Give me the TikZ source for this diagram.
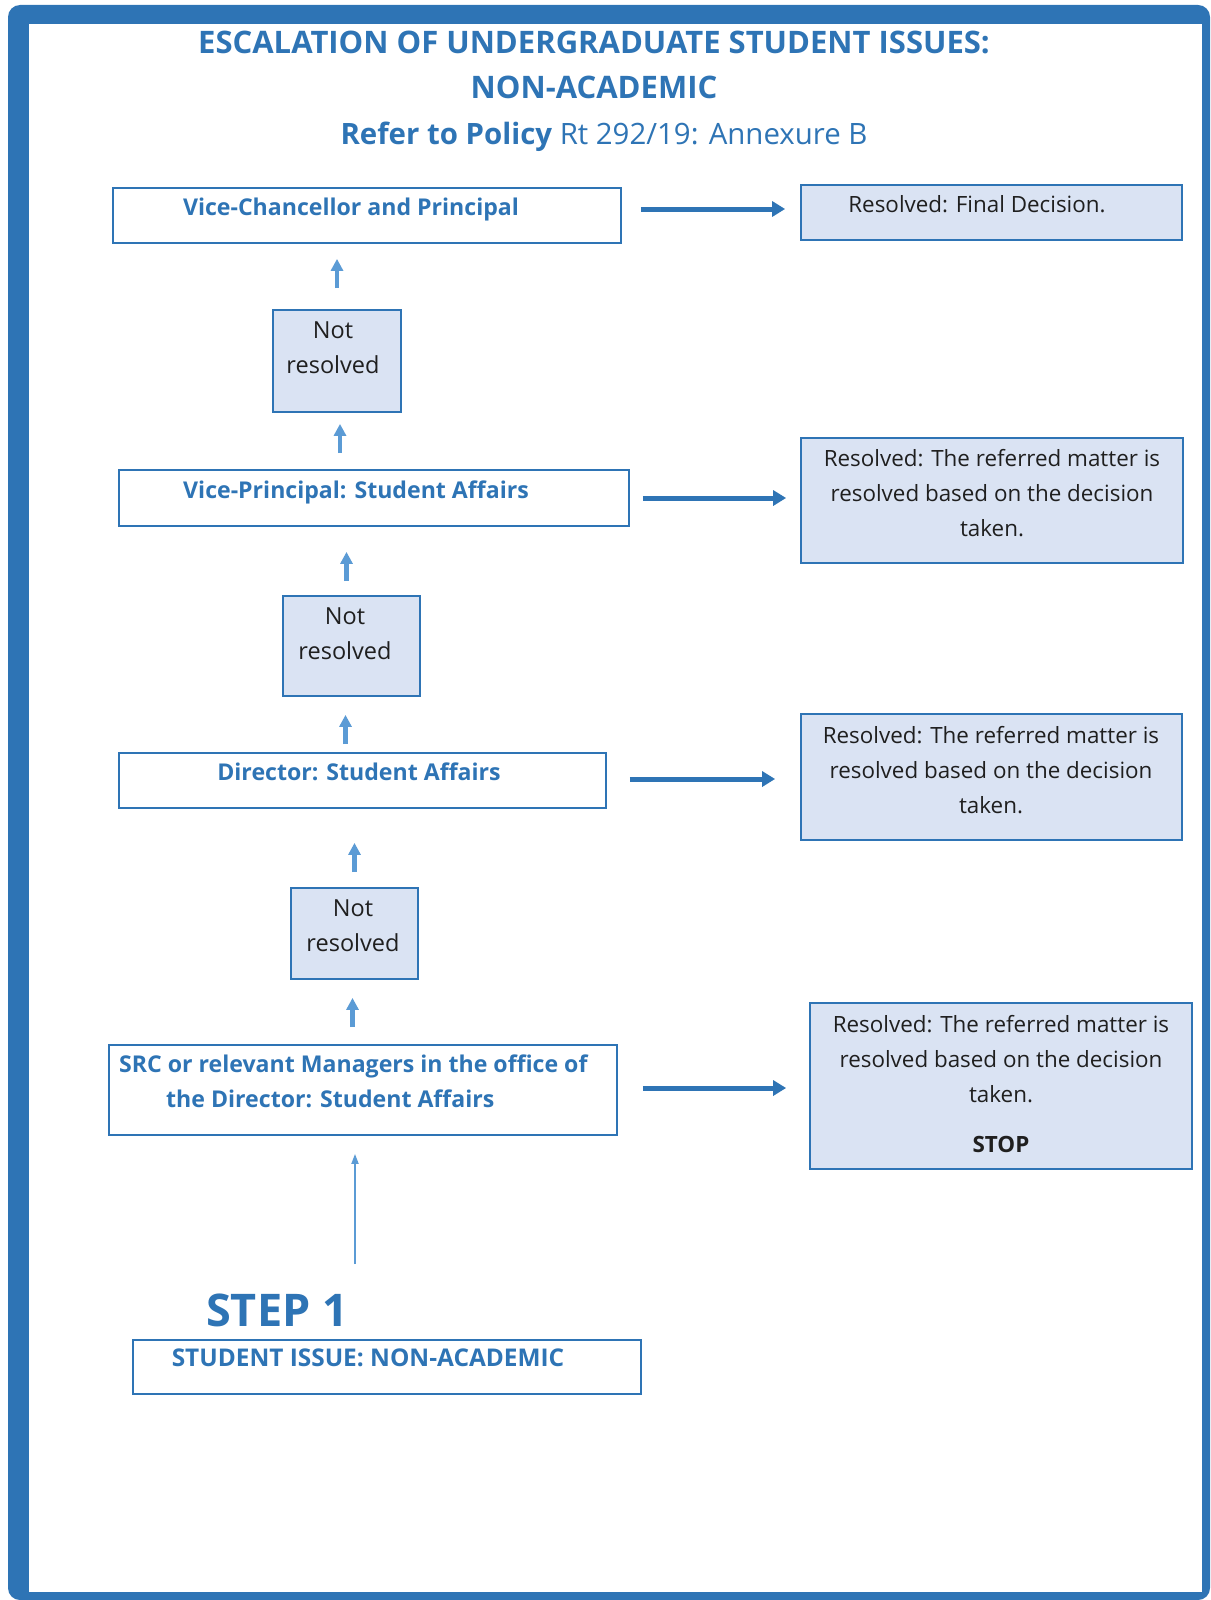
\documentclass[tikz,border=0pt]{standalone}
\usepackage{fontspec}
\setmainfont{Open Sans}
\usetikzlibrary{arrows.meta,positioning}
\definecolor{frameblue}{HTML}{2E74B5}
\definecolor{arrowblue}{HTML}{5B9BD5}
\definecolor{boxfill}{HTML}{DAE3F3}
\tikzset{
  wbox/.style={draw=frameblue, line width=1.8pt, fill=white, inner sep=0pt},
  bbox/.style={draw=frameblue, line width=1.8pt, fill=boxfill, inner sep=0pt},
  titletext/.style={text=frameblue, font=\fontsize{31}{35}\selectfont\bfseries, inner sep=0pt, anchor=base},
  headtext/.style={text=frameblue, font=\fontsize{23.1}{35}\selectfont\bfseries, inner sep=0pt, anchor=base},
  bodytext/.style={text=black!88, font=\fontsize{22.4}{35}\selectfont, align=center, inner sep=0pt, anchor=base},
  rightarrow/.style={draw=frameblue, line width=5pt, -{Triangle[length=13pt,width=15pt]}},
  uparrow/.style={draw=arrowblue, line width=4.5pt, -{Triangle[length=12pt,width=12pt]}},
  longarrow/.style={draw=arrowblue, line width=1.8pt, -{Triangle[length=10pt,width=7pt]}},
}

\begin{document}
\begin{tikzpicture}[x=1pt,y=-1pt]
  \useasboundingbox (0,0) rectangle (1210,1600);
  % frame
  \fill[frameblue, rounded corners=12pt] (8,5) rectangle (1210,1600);
  \fill[white] (28.5,24.5) rectangle (1202,1592);
  % title
  \node[titletext] (title1) at (594,53.5) {ESCALATION OF UNDERGRADUATE STUDENT ISSUES:};
  \node[titletext] (title2) at (594,98.5) {NON-ACADEMIC};
  \node[titletext, font=\fontsize{29.4}{35}\selectfont\bfseries] (title3) at (604,144.5) {Refer to Policy \mdseries Rt 292/19: Annexure B};
  % escalation boxes
  \node[wbox, minimum width=508pt, minimum height=55pt] (vc) at (367,215.5) {};
  \node[wbox, minimum width=510pt, minimum height=56pt] (vp) at (374,498) {};
  \node[wbox, minimum width=487pt, minimum height=55pt] (dir) at (362.5,780.5) {};
  \node[wbox, minimum width=508pt, minimum height=90pt] (src) at (363,1090) {};
  \node[wbox, minimum width=508pt, minimum height=54pt] (si) at (387,1367) {};
  \node[headtext] (vctext) at (351,215) {Vice-Chancellor and Principal};
  \node[headtext] (vptext) at (356,498) {Vice-Principal: Student Affairs};
  \node[headtext] (dirtext) at (359,780) {Director: Student Affairs};
  \node[headtext, align=left, anchor=base west] (srctext) at (119,1107)
    {SRC or relevant Managers in the office of\\\hspace*{47pt}the Director: Student Affairs};
  \node[headtext, font=\fontsize{24.4}{35}\selectfont\bfseries] (sitext) at (368,1366) {STUDENT ISSUE: NON-ACADEMIC};
  \node[headtext, font=\fontsize{45}{50}\selectfont\bfseries] (step) at (277,1326) {STEP 1};
  % not resolved
  \node[bbox, minimum width=128pt, minimum height=102pt] (nr1) at (337,361) {};
  \node[bbox, minimum width=137pt, minimum height=100pt] (nr2) at (351.5,646) {};
  \node[bbox, minimum width=127pt, minimum height=91pt] (nr3) at (354.5,933.5) {};
  \node[bodytext, font=\fontsize{23.5}{35}\selectfont] (nr1text) at (333,373) {Not\\resolved};
  \node[bodytext, font=\fontsize{23.5}{35}\selectfont] (nr2text) at (345,659) {Not\\resolved};
  \node[bodytext, font=\fontsize{23.5}{35}\selectfont] (nr3text) at (353,951) {Not\\resolved};
  % resolved
  \node[bbox, minimum width=381pt, minimum height=55pt] (res1) at (991.5,212.5) {};
  \node[bbox, minimum width=382pt, minimum height=125pt] (res2) at (992,500.5) {};
  \node[bbox, minimum width=381pt, minimum height=126pt] (res3) at (991.5,777) {};
  \node[bbox, minimum width=382pt, minimum height=166pt] (res4) at (1001,1086) {};
  \node[bodytext] (res1text) at (977,212) {Resolved: Final Decision.};
  \node[bodytext] (res2text) at (992,536) {Resolved: The referred matter is\\resolved based on the decision\\taken.};
  \node[bodytext] (res3text) at (991,813) {Resolved: The referred matter is\\resolved based on the decision\\taken.};
  \node[bodytext] (res4text) at (1001,1152) {Resolved: The referred matter is\\resolved based on the decision\\taken.\\[15pt]\textbf{STOP}};
  % arrows to the right
  \draw[rightarrow, shorten <=19pt, shorten >=15pt] ([yshift=6.5pt]vc.east) -- ([yshift=6.5pt]vc.east -| res1.west);
  \draw[rightarrow, shorten <=13pt, shorten >=14pt] (vp.east) -- (vp.east -| res2.west);
  \draw[rightarrow, shorten <=23pt, shorten >=25pt] ([yshift=1.5pt]dir.east) -- ([yshift=1.5pt]dir.east -| res3.west);
  \draw[rightarrow, shorten <=25pt, shorten >=23pt] ([yshift=2pt]src.east) -- ([yshift=2pt]src.east -| res4.west);
  % arrows upwards
  \draw[uparrow, shorten <=21pt, shorten >=15pt] (nr1.north) -- (nr1.north |- vc.south);
  \draw[uparrow, shorten <=16pt, shorten >=11pt] ([xshift=3pt]nr1.south |- vp.north) -- ([xshift=3pt]nr1.south);
  \draw[uparrow, shorten <=14pt, shorten >=25pt] ([xshift=-5pt]nr2.north) -- ([xshift=-5pt]nr2.north |- vp.south);
  \draw[uparrow, shorten <=8pt, shorten >=18pt] ([xshift=-6pt]nr2.south |- dir.north) -- ([xshift=-6pt]nr2.south);
  \draw[uparrow, shorten <=15pt, shorten >=34pt] (nr3.north) -- (nr3.north |- dir.south);
  \draw[uparrow, shorten <=17pt, shorten >=18pt] ([xshift=-2pt]nr3.south |- src.north) -- ([xshift=-2pt]nr3.south);
  \draw[longarrow, shorten <=75pt, shorten >=18pt] ([xshift=-8pt]src.south |- si.north) -- ([xshift=-8pt]src.south);
\end{tikzpicture}
\end{document}
